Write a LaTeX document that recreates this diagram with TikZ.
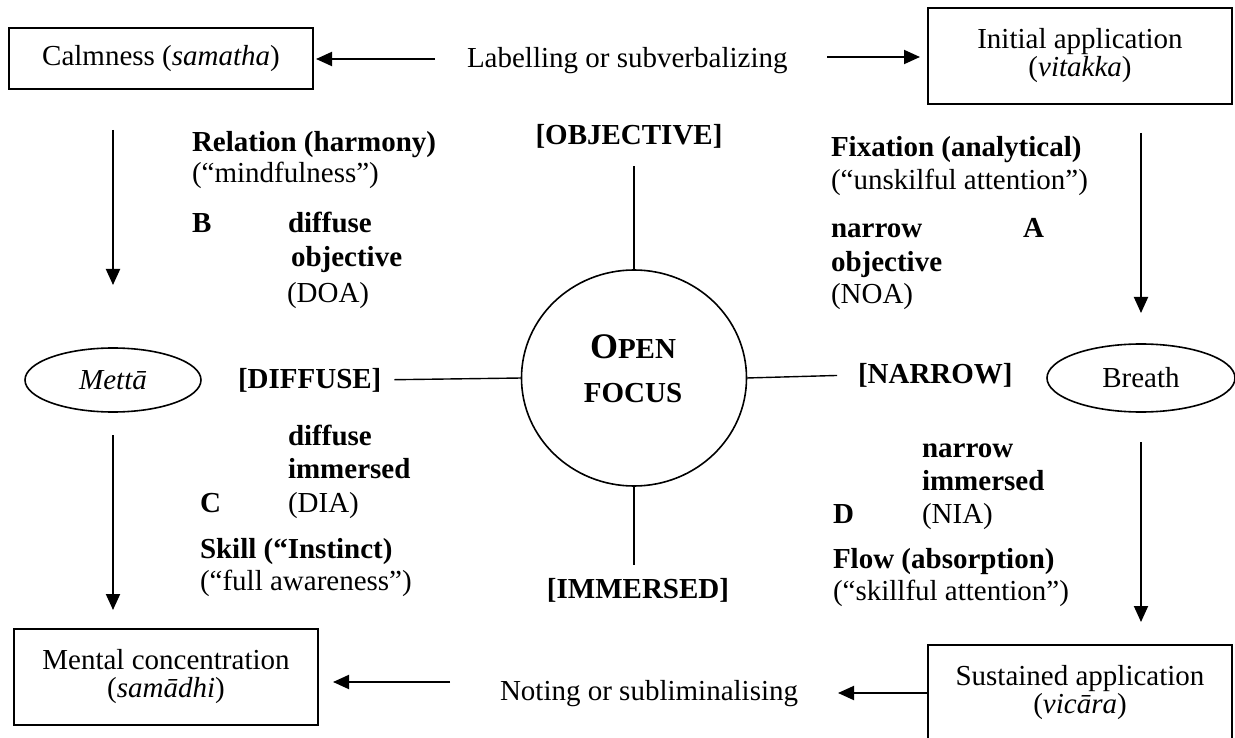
\documentclass[tikz,border=0pt]{standalone}
\usepackage{fontspec}
\setmainfont{Liberation Serif}
\usetikzlibrary{arrows.meta,shapes.geometric}
\begin{document}
\begin{tikzpicture}[x=1pt,y=-1pt,
  every node/.style={inner sep=0pt, outer sep=0pt, font=\fontsize{29}{28}\selectfont},
  box/.style={draw, line width=1.7pt, minimum width=304pt, align=center},
  oval/.style={draw, ellipse, line width=1.6pt},
  txt/.style={anchor=base west},
  bt/.style={anchor=base west, font=\fontsize{29}{28}\selectfont\bfseries},
  btc/.style={anchor=base, font=\fontsize{29}{28}\selectfont\bfseries},
  arr/.style={line width=1.9pt, -{Triangle[length=16pt,width=14pt]}},
  spoke/.style={line width=1.4pt}]
\useasboundingbox (0,0) rectangle (1235,738);

% boxes
\node[box, minimum height=61pt] (calm) at (161,58.5) {Calmness (\textit{samatha})};
\node[box, minimum height=96pt] (init) at (1080,56) {Initial application\\(\textit{vitakka})};
\node[box, minimum height=96pt] (mental) at (166,677) {Mental concentration\\(\textit{samādhi})};
\node[box, minimum height=96pt] (sust) at (1080,693) {Sustained application\\(\textit{vicāra})};

% ellipses
\node[oval, minimum width=176pt, minimum height=64pt] (metta) at (113,380) {\textit{Mettā}};
\node[oval, minimum width=188pt, minimum height=68pt] (breath) at (1141,378) {Breath};
\node[oval, minimum width=225pt, minimum height=216pt] (focus) at (634,378) {};
\node[btc] (fopen) at (633,358) {{\fontsize{36}{44}\selectfont O}PEN};
\node[btc] (ffocus) at (633,402) {FOCUS};

% middle labels
\node[txt] (lab) at (467,68) {Labelling or subverbalizing};
\node[txt] (note) at (500,700) {Noting or subliminalising};
\node[btc] (obj) at (629,145) {[OBJECTIVE]};
\node[bt] (dif) at (238,388) {[DIFFUSE]};
\node[bt] (nar) at (858,383) {[NARROW]};
\node[btc] (imm) at (638,598) {[IMMERSED]};

% quadrant B
\node[bt] (relh) at (192,152) {Relation (harmony)};
\node[txt] (mind) at (192,183) {(“mindfulness”)};
\node[bt] (qB) at (192,233) {B};
\node[bt] (bdif) at (288,233) {diffuse};
\node[bt] (bobj) at (291,267) {objective};
\node[txt] (doa) at (287,302) {(DOA)};

% quadrant A
\node[bt] (fix) at (831,157) {Fixation (analytical)};
\node[txt] (unsk) at (831,190) {(“unskilful attention”)};
\node[bt] (anar) at (831,238) {narrow};
\node[bt] (qA) at (1023,238) {A};
\node[bt] (aobj) at (831,272) {objective};
\node[txt] (noa) at (831,304) {(NOA)};

% quadrant C
\node[bt] (cdif) at (288,445) {diffuse};
\node[bt] (cimm) at (288,478) {immersed};
\node[bt] (qC) at (200,512) {C};
\node[txt] (dia) at (288,512) {(DIA)};
\node[bt] (skill) at (200,558) {Skill (“Instinct)};
\node[txt] (full) at (200,590) {(“full awareness”)};

% quadrant D
\node[bt] (dnar) at (922,457) {narrow};
\node[bt] (dimm) at (922,490) {immersed};
\node[bt] (qD) at (833,523) {D};
\node[txt] (nia) at (922,523) {(NIA)};
\node[bt] (flow) at (833,568) {Flow (absorption)};
\node[txt] (skf) at (833,600) {(“skillful attention”)};

% horizontal arrows
\coordinate (la) at (435,59);
\draw[arr, shorten >=3pt] (la) -- (la -| calm.east);
\coordinate (ra) at (827,57);
\draw[arr, shorten >=8pt] (ra) -- (ra -| init.west);
\coordinate (nb) at (450,682);
\draw[arr, shorten >=15pt] (nb) -- (nb -| mental.east);
\coordinate (nt) at (838,693);
\draw[arr] (sust.west) -- (nt);

% vertical arrows
\draw[arr, shorten <=41pt, shorten >=63pt] (calm.south -| metta.north) -- (metta.north);
\draw[arr, shorten <=29pt, shorten >=31pt] (init.south -| breath.north) -- (breath.north);
\draw[arr, shorten <=23pt, shorten >=19pt] (metta.south) -- (metta.south |- mental.north);
\draw[arr, shorten <=30pt, shorten >=23pt] (breath.south) -- (breath.south |- sust.north);

% spokes
\draw[spoke, shorten >=17pt] (focus.north) -- (focus.north |- obj.south);
\draw[spoke, shorten >=13pt] (focus.west) -- (dif.east);
\draw[spoke, shorten >=21pt] (focus.east) -- (nar.west);
\draw[spoke, shorten >=13pt] (focus.south) -- (focus.south |- imm.north);
\end{tikzpicture}
\end{document}
